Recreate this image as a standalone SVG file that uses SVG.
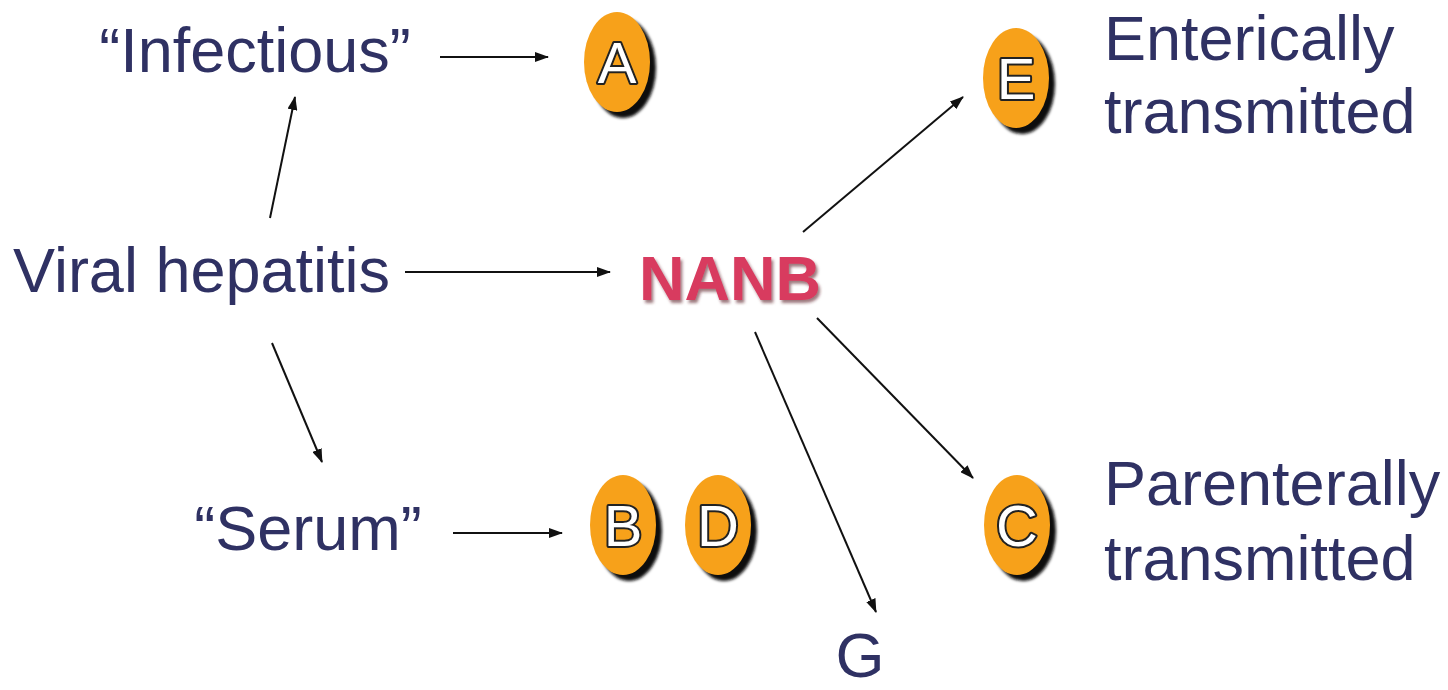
<svg xmlns="http://www.w3.org/2000/svg" width="1448" height="690" viewBox="0 0 1448 690">
<defs>
<marker id="ah" viewBox="0 0 14 10" refX="13" refY="5" markerWidth="14" markerHeight="10" orient="auto" markerUnits="userSpaceOnUse">
<path d="M0,0 L14,5 L0,10 Z" fill="#111"/>
</marker>
<filter id="blur" x="-20%" y="-20%" width="140%" height="140%"><feGaussianBlur stdDeviation="1.5"/></filter>
<filter id="ds" x="-10%" y="-20%" width="130%" height="150%"><feDropShadow dx="2" dy="3" stdDeviation="1.5" flood-color="#5a1a28" flood-opacity="0.6"/></filter>
</defs>
<style>
.t{font-family:"Liberation Sans",Arial,sans-serif;font-size:63px;fill:#2f3163;}
.c line{stroke:#111;stroke-width:2;marker-end:url(#ah);}
.sh{fill:#111;filter:url(#blur);}
.ov{fill:#f7a11a;}
.lt{font-family:"Liberation Sans",Arial,sans-serif;font-size:58px;fill:#fff;stroke:#222;stroke-width:4;paint-order:stroke;stroke-linejoin:round;text-anchor:middle;}
.nanb{font-family:"Liberation Sans",Arial,sans-serif;font-size:63px;font-weight:bold;fill:#d83a5e;}
</style>
<rect width="1448" height="690" fill="#fff"/>
<g class="c">
<line x1="440" y1="57" x2="548" y2="57"/>
<line x1="270" y1="218" x2="295" y2="97"/>
<line x1="405" y1="272" x2="610" y2="272"/>
<line x1="272" y1="343" x2="322" y2="462"/>
<line x1="453" y1="533" x2="562" y2="533"/>
<line x1="803" y1="232" x2="963" y2="97"/>
<line x1="817" y1="318" x2="973" y2="478"/>
<line x1="755" y1="332" x2="876" y2="612"/>
</g>
<g id="infectious"><text class="t" x="255" y="72" text-anchor="middle">“Infectious”</text></g>
<g id="viral"><text class="t" x="13" y="292">Viral hepatitis</text></g>
<g id="serum"><text class="t" x="308" y="550" text-anchor="middle">“Serum”</text></g>
<g id="nanb"><text class="nanb" x="639" y="300" filter="url(#ds)">NANB</text></g>
<g id="g"><text class="t" x="860" y="677" text-anchor="middle">G</text></g>
<g id="enteric"><text class="t" x="1104" y="60">Enterically</text><text class="t" x="1104" y="133">transmitted</text></g>
<g id="parenteral"><text class="t" x="1104" y="505">Parenterally</text><text class="t" x="1104" y="580">transmitted</text></g>
<g id="A"><ellipse class="sh" cx="623" cy="68" rx="33" ry="50"/><ellipse class="ov" cx="617" cy="62" rx="33" ry="50"/><text class="lt" x="617" y="83">A</text></g>
<g id="B"><ellipse class="sh" cx="629" cy="531" rx="33" ry="50"/><ellipse class="ov" cx="623" cy="525" rx="33" ry="50"/><text class="lt" x="623" y="546">B</text></g>
<g id="D"><ellipse class="sh" cx="724" cy="531" rx="33" ry="50"/><ellipse class="ov" cx="718" cy="525" rx="33" ry="50"/><text class="lt" x="718" y="546">D</text></g>
<g id="E"><ellipse class="sh" cx="1022" cy="84" rx="33" ry="50"/><ellipse class="ov" cx="1016" cy="78" rx="33" ry="50"/><text class="lt" x="1016" y="99">E</text></g>
<g id="C"><ellipse class="sh" cx="1023" cy="531" rx="33" ry="50"/><ellipse class="ov" cx="1017" cy="525" rx="33" ry="50"/><text class="lt" x="1017" y="546">C</text></g>
</svg>
